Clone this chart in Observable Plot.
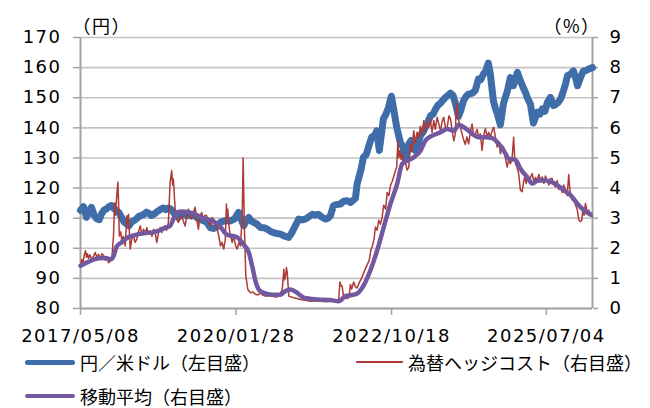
<!DOCTYPE html>
<html><head><meta charset="utf-8">
<script src="https://cdn.jsdelivr.net/npm/d3@7"></script>
<script src="https://cdn.jsdelivr.net/npm/@observablehq/plot@0.6"></script>
<style>
body{margin:0;background:#fff;}
#wrap{position:relative;width:650px;height:408px;overflow:hidden;background:#fff;}
.lg{position:absolute;font-family:"Noto Sans CJK JP",sans-serif;font-size:18px;line-height:24px;color:#000;white-space:nowrap;}
.sw{position:absolute;}
</style></head><body><div id="wrap"></div>
<script>
// ---- data ----
const xStart = "2017-05-08", xEnd = "2026-04-25";
const xTickLabels = ["2017-05-08", "2020-01-28", "2022-10-18", "2025-07-04"];
const yenTicks = [80, 90, 100, 110, 120, 130, 140, 150, 160, 170];
const pctTicks = [0, 1, 2, 3, 4, 5, 6, 7, 8, 9];
const seriesNames = ["円／米ドル（左目盛）", "為替ヘッジコスト（右目盛）", "移動平均（右目盛）"];

// USD/JPY (yen, left axis)
const fx = [["2017-05-08",112.6],["2017-05-27",113.8],["2017-06-15",110.3],["2017-07-02",112.2],["2017-07-17",113.6],["2017-08-03",111.0],["2017-08-19",109.8],["2017-09-05",109.5],["2017-09-19",111.4],["2017-10-05",112.6],["2017-10-21",113.1],["2017-11-06",113.8],["2017-11-22",114.2],["2017-12-08",113.2],["2017-12-24",112.5],["2018-01-09",111.8],["2018-01-25",110.3],["2018-02-10",108.8],["2018-02-26",108.1],["2018-03-14",107.5],["2018-03-30",108.7],["2018-04-15",109.2],["2018-05-01",109.8],["2018-05-17",110.6],["2018-06-02",110.9],["2018-06-18",111.3],["2018-07-04",112.0],["2018-07-20",111.6],["2018-08-05",110.9],["2018-08-25",111.5],["2018-09-18",112.5],["2018-10-04",113.0],["2018-10-20",113.4],["2018-11-05",112.8],["2018-11-21",113.4],["2018-12-07",113.0],["2018-12-23",112.0],["2019-01-08",110.8],["2019-01-24",110.3],["2019-02-09",110.9],["2019-02-25",111.4],["2019-03-18",110.8],["2019-04-11",110.9],["2019-04-28",111.2],["2019-05-19",110.3],["2019-06-10",109.6],["2019-07-03",109.2],["2019-07-25",108.6],["2019-08-17",106.8],["2019-09-05",106.6],["2019-09-24",107.0],["2019-10-08",107.8],["2019-10-20",108.6],["2019-11-20",109.2],["2019-12-23",109.1],["2020-01-18",109.8],["2020-02-13",111.9],["2020-03-01",109.5],["2020-03-17",107.5],["2020-04-01",109.0],["2020-04-18",110.2],["2020-05-05",109.0],["2020-05-20",108.6],["2020-06-10",108.0],["2020-07-02",106.9],["2020-07-25",106.8],["2020-08-16",106.3],["2020-09-05",105.6],["2020-09-23",105.2],["2020-10-15",104.9],["2020-11-07",104.7],["2020-12-05",104.0],["2020-12-29",103.6],["2021-01-14",104.8],["2021-01-29",106.3],["2021-02-15",108.0],["2021-03-03",109.7],["2021-03-25",109.4],["2021-04-15",109.7],["2021-05-08",110.5],["2021-05-30",111.3],["2021-06-18",111.0],["2021-07-07",111.3],["2021-07-28",110.4],["2021-08-21",109.7],["2021-09-08",110.0],["2021-09-22",110.8],["2021-10-11",114.1],["2021-10-30",114.5],["2021-11-25",114.7],["2021-12-16",115.6],["2022-01-08",115.8],["2022-01-28",115.2],["2022-02-15",116.0],["2022-03-01",116.6],["2022-03-12",121.4],["2022-04-05",126.0],["2022-04-21",130.2],["2022-05-08",131.0],["2022-05-23",133.5],["2022-06-13",136.9],["2022-07-02",137.5],["2022-07-15",139.0],["2022-08-01",132.5],["2022-08-27",143.0],["2022-09-12",144.5],["2022-09-28",146.7],["2022-10-17",150.5],["2022-10-30",146.7],["2022-11-20",140.2],["2022-12-14",135.0],["2022-12-30",133.6],["2023-01-15",129.5],["2023-02-04",134.5],["2023-02-20",135.8],["2023-03-08",134.5],["2023-03-20",132.5],["2023-04-05",134.5],["2023-04-21",137.5],["2023-05-07",138.5],["2023-05-22",140.1],["2023-06-08",142.0],["2023-06-24",144.0],["2023-07-10",144.5],["2023-07-26",146.2],["2023-08-11",147.5],["2023-08-27",148.2],["2023-09-12",149.2],["2023-09-28",150.1],["2023-10-14",150.8],["2023-10-30",151.5],["2023-11-15",150.8],["2023-12-01",148.0],["2023-12-20",143.8],["2024-01-05",146.0],["2024-01-21",149.0],["2024-02-08",150.5],["2024-02-22",151.2],["2024-03-18",151.5],["2024-04-06",152.5],["2024-04-25",156.2],["2024-05-10",156.0],["2024-05-27",157.8],["2024-06-12",159.0],["2024-06-28",161.5],["2024-07-11",157.8],["2024-07-30",149.0],["2024-08-12",146.5],["2024-08-25",144.6],["2024-09-13",141.0],["2024-10-02",147.9],["2024-10-28",152.3],["2024-11-16",156.7],["2024-12-05",154.0],["2024-12-31",158.4],["2025-01-19",155.6],["2025-02-05",153.5],["2025-02-20",151.8],["2025-03-08",149.5],["2025-03-24",147.9],["2025-04-12",141.6],["2025-04-25",143.5],["2025-05-08",145.2],["2025-05-25",144.6],["2025-06-08",146.3],["2025-06-25",145.5],["2025-07-11",148.5],["2025-07-30",150.1],["2025-08-18",147.4],["2025-09-02",147.8],["2025-09-19",148.5],["2025-10-05",149.8],["2025-10-21",152.3],["2025-11-03",154.5],["2025-11-16",157.3],["2025-12-05",157.8],["2025-12-24",158.9],["2026-01-08",156.5],["2026-01-19",154.0],["2026-02-07",156.7],["2026-02-26",158.9],["2026-03-15",159.0],["2026-03-30",159.5],["2026-04-25",160.0]];

// FX hedge cost (%, right axis)
const hedge = [["2017-05-08",1.40],["2017-05-16",1.63],["2017-05-24",1.52],["2017-06-02",1.80],["2017-06-09",1.92],["2017-06-15",1.70],["2017-06-22",1.82],["2017-06-28",1.66],["2017-07-08",1.78],["2017-07-17",1.62],["2017-07-30",1.74],["2017-08-10",1.86],["2017-08-20",1.70],["2017-08-31",1.80],["2017-09-12",1.66],["2017-09-22",1.82],["2017-10-02",1.77],["2017-10-14",1.60],["2017-10-24",1.72],["2017-11-03",1.52],["2017-11-14",1.58],["2017-11-24",1.63],["2017-12-05",2.41],["2017-12-12",3.50],["2017-12-16",3.10],["2018-01-02",4.19],["2018-01-06",3.60],["2018-01-11",2.41],["2018-01-20",2.55],["2018-01-27",2.24],["2018-02-06",2.40],["2018-02-18",2.08],["2018-02-28",3.08],["2018-03-06",2.80],["2018-03-11",3.13],["2018-03-22",1.97],["2018-04-01",2.30],["2018-04-12",2.41],["2018-04-22",2.20],["2018-05-03",2.30],["2018-05-14",2.55],["2018-05-25",2.74],["2018-06-05",2.45],["2018-06-15",2.63],["2018-06-26",2.50],["2018-07-06",2.68],["2018-07-17",2.47],["2018-07-28",2.58],["2018-08-08",2.40],["2018-08-18",2.63],["2018-08-29",2.50],["2018-09-08",2.19],["2018-09-20",2.55],["2018-09-30",2.69],["2018-10-10",2.52],["2018-10-20",2.70],["2018-10-31",2.74],["2018-11-10",2.60],["2018-11-21",2.86],["2018-12-02",4.19],["2018-12-12",4.58],["2018-12-18",4.10],["2018-12-23",4.30],["2019-01-03",3.30],["2019-01-14",2.95],["2019-01-24",2.86],["2019-02-04",3.00],["2019-02-14",3.08],["2019-02-25",2.90],["2019-03-08",2.74],["2019-03-18",3.05],["2019-03-29",3.30],["2019-04-08",3.02],["2019-04-19",2.97],["2019-04-30",3.20],["2019-05-11",3.36],["2019-05-20",3.00],["2019-06-01",2.63],["2019-06-10",3.05],["2019-06-22",3.19],["2019-07-03",2.95],["2019-07-13",3.10],["2019-07-24",3.08],["2019-08-05",2.85],["2019-08-17",2.74],["2019-08-27",3.02],["2019-09-05",2.97],["2019-09-16",2.80],["2019-09-26",2.69],["2019-10-08",2.45],["2019-10-20",2.08],["2019-10-30",2.20],["2019-11-10",1.97],["2019-11-20",2.30],["2019-11-27",3.47],["2019-12-01",3.00],["2019-12-06",3.30],["2019-12-12",2.80],["2019-12-19",2.52],["2020-01-03",2.19],["2020-01-13",2.41],["2020-01-24",2.10],["2020-02-04",1.97],["2020-02-15",2.20],["2020-02-25",2.08],["2020-03-07",3.08],["2020-03-13",5.00],["2020-03-17",3.80],["2020-03-22",2.52],["2020-03-30",1.08],["2020-04-12",0.63],["2020-04-29",0.52],["2020-05-15",0.55],["2020-05-31",0.47],["2020-06-15",0.45],["2020-07-02",0.52],["2020-07-18",0.44],["2020-08-03",0.41],["2020-08-25",0.43],["2020-09-15",0.41],["2020-10-06",0.38],["2020-10-27",0.41],["2020-11-18",0.63],["2020-11-24",1.00],["2020-11-28",1.30],["2020-12-03",0.95],["2020-12-09",1.08],["2020-12-15",1.36],["2020-12-20",1.20],["2020-12-30",0.41],["2021-01-31",0.36],["2021-02-20",0.33],["2021-03-14",0.30],["2021-04-15",0.27],["2021-05-17",0.24],["2021-06-18",0.26],["2021-07-20",0.24],["2021-08-21",0.22],["2021-09-22",0.24],["2021-10-24",0.26],["2021-11-14",0.30],["2021-11-22",0.88],["2021-11-30",0.75],["2021-12-06",0.74],["2021-12-16",0.36],["2022-01-07",0.33],["2022-01-20",0.38],["2022-01-28",0.80],["2022-02-05",0.65],["2022-02-18",0.88],["2022-03-01",0.72],["2022-03-12",0.68],["2022-03-25",0.85],["2022-04-13",1.05],["2022-04-28",1.25],["2022-05-15",1.45],["2022-05-28",1.60],["2022-06-08",1.95],["2022-06-16",2.05],["2022-06-28",2.30],["2022-07-07",2.71],["2022-07-18",2.60],["2022-07-28",2.93],["2022-08-08",2.80],["2022-08-19",3.04],["2022-08-29",3.43],["2022-09-10",3.30],["2022-09-20",3.85],["2022-10-01",3.75],["2022-10-12",4.10],["2022-10-22",4.22],["2022-11-02",4.40],["2022-11-12",4.58],["2022-11-20",4.70],["2022-11-27",5.57],["2022-12-03",5.00],["2022-12-10",5.24],["2022-12-18",4.95],["2022-12-25",5.13],["2023-01-05",4.80],["2023-01-15",4.86],["2023-01-25",4.60],["2023-02-05",4.69],["2023-02-16",5.46],["2023-02-25",5.20],["2023-03-09",5.90],["2023-03-20",5.50],["2023-03-30",5.85],["2023-04-10",5.68],["2023-04-20",6.05],["2023-05-01",5.75],["2023-05-12",6.24],["2023-05-22",5.90],["2023-06-01",6.15],["2023-06-12",6.02],["2023-06-22",6.30],["2023-07-04",5.85],["2023-07-15",6.24],["2023-07-25",5.95],["2023-08-05",6.35],["2023-08-16",6.13],["2023-08-27",5.90],["2023-09-06",6.20],["2023-09-17",6.35],["2023-09-28",6.00],["2023-10-09",6.02],["2023-10-20",6.40],["2023-10-30",6.29],["2023-11-10",5.90],["2023-11-20",5.57],["2023-11-30",5.80],["2023-12-07",6.84],["2023-12-14",6.50],["2023-12-22",6.24],["2024-01-02",6.00],["2024-01-12",5.80],["2024-01-22",5.60],["2024-02-02",5.45],["2024-02-12",5.70],["2024-02-23",5.47],["2024-03-05",5.85],["2024-03-16",6.13],["2024-03-26",5.75],["2024-04-06",5.80],["2024-04-17",5.95],["2024-04-27",5.70],["2024-05-08",5.80],["2024-05-19",5.25],["2024-05-29",5.75],["2024-06-09",5.97],["2024-06-20",5.70],["2024-06-30",5.85],["2024-07-11",5.69],["2024-07-22",5.90],["2024-08-01",6.02],["2024-08-12",5.70],["2024-08-23",5.36],["2024-09-03",5.55],["2024-09-13",5.14],["2024-09-24",5.40],["2024-10-04",5.36],["2024-10-15",5.00],["2024-10-26",4.70],["2024-11-06",4.95],["2024-11-16",4.81],["2024-11-27",5.00],["2024-12-07",5.69],["2024-12-12",5.10],["2024-12-18",4.81],["2024-12-28",4.70],["2025-01-08",4.48],["2025-01-19",3.93],["2025-01-30",3.88],["2025-02-08",4.20],["2025-02-16",4.37],["2025-02-25",4.15],["2025-03-06",4.40],["2025-03-13",4.26],["2025-03-24",4.35],["2025-04-04",4.48],["2025-04-15",4.20],["2025-04-25",4.35],["2025-05-06",4.26],["2025-05-17",4.45],["2025-05-27",4.25],["2025-06-07",4.37],["2025-06-18",4.15],["2025-06-28",4.40],["2025-07-09",4.26],["2025-07-20",4.10],["2025-07-30",4.32],["2025-08-10",4.32],["2025-08-21",4.10],["2025-08-31",4.04],["2025-09-11",4.25],["2025-09-21",3.95],["2025-10-02",4.04],["2025-10-13",3.85],["2025-10-23",4.10],["2025-11-03",3.93],["2025-11-14",3.75],["2025-11-24",4.45],["2025-12-02",3.90],["2025-12-16",3.60],["2025-12-26",3.70],["2026-01-06",3.44],["2026-01-17",3.30],["2026-01-27",2.95],["2026-02-07",2.89],["2026-02-15",2.92],["2026-02-22",3.27],["2026-03-02",3.10],["2026-03-11",3.49],["2026-03-22",3.20],["2026-04-01",3.27],["2026-04-12",3.10],["2026-04-23",3.05]];

// moving average of hedge cost (%, right axis)
const hedgeMA = [["2017-05-08",1.42],["2017-07-20",1.60],["2017-08-31",1.67],["2017-10-13",1.68],["2017-11-14",1.63],["2017-12-05",1.74],["2017-12-26",2.06],["2018-01-27",2.20],["2018-02-28",2.34],["2018-04-01",2.41],["2018-05-14",2.47],["2018-06-26",2.51],["2018-08-07",2.52],["2018-09-18",2.58],["2018-10-31",2.68],["2018-12-02",2.74],["2018-12-23",2.97],["2019-01-13",3.19],["2019-02-14",3.22],["2019-03-29",3.20],["2019-05-11",3.13],["2019-06-22",3.02],["2019-08-04",2.95],["2019-09-16",2.86],["2019-10-20",2.70],["2019-12-02",2.45],["2020-01-13",2.40],["2020-02-04",2.36],["2020-03-17",2.12],["2020-04-18",1.86],["2020-05-10",1.41],["2020-05-31",0.91],["2020-06-21",0.63],["2020-07-23",0.52],["2020-09-15",0.46],["2020-11-07",0.46],["2020-12-09",0.58],["2021-01-10",0.63],["2021-02-22",0.52],["2021-04-05",0.36],["2021-06-29",0.30],["2021-09-22",0.28],["2021-11-14",0.24],["2021-12-27",0.41],["2022-01-28",0.44],["2022-03-12",0.50],["2022-04-23",0.77],["2022-06-05",1.27],["2022-07-18",1.93],["2022-08-29",2.70],["2022-10-11",3.48],["2022-11-23",4.14],["2022-12-25",4.80],["2023-01-26",4.91],["2023-03-09",5.02],["2023-04-21",5.24],["2023-05-22",5.57],["2023-07-05",5.74],["2023-08-27",5.85],["2023-10-09",5.96],["2023-11-20",5.90],["2023-12-22",6.10],["2024-01-23",6.02],["2024-02-23",5.90],["2024-03-16",5.80],["2024-04-27",5.69],["2024-06-09",5.69],["2024-07-22",5.66],["2024-09-02",5.47],["2024-10-04",5.25],["2024-11-05",4.98],["2024-12-18",4.94],["2025-01-19",4.64],["2025-03-03",4.37],["2025-04-04",4.15],["2025-05-06",4.24],["2025-06-17",4.26],["2025-07-30",4.21],["2025-09-11",4.10],["2025-10-23",3.93],["2025-12-05",3.77],["2026-01-17",3.49],["2026-02-28",3.27],["2026-04-12",3.12]];

// ---- drawing ----
const parse = d3.utcParse("%Y-%m-%d");
const toRows = arr => arr.map(([d, v]) => ({date: parse(d), v}));
const yenMin = yenTicks[0], yenMax = yenTicks[yenTicks.length - 1];
const pctMax = pctTicks[pctTicks.length - 1];
const pctToYen = p => yenMin + p * (yenMax - yenMin) / pctMax;

const colors = {fx: "#3e6da9", hedge: "#ad3a36", ma: "#72589f", grid: "#c3c3c3", axis: "#a3a3a3"};
const x0 = parse(xStart), x1 = parse(xEnd);

const chart = Plot.plot({
  width: 650, height: 350,
  marginLeft: 80, marginRight: 58, marginTop: 37, marginBottom: 42,
  style: {fontFamily: "'DejaVu Sans', sans-serif", fontSize: "18px", color: "#000", background: "#fff", letterSpacing: "1.5px", overflow: "visible"},
  x: {type: "utc", domain: [x0, x1]},
  y: {domain: [yenMin, yenMax]},
  marks: [
    Plot.gridY(yenTicks, {stroke: colors.grid, strokeOpacity: 1, strokeWidth: 1.6}),
    Plot.ruleX([x0, x1], {stroke: colors.axis, strokeWidth: 2}),
    Plot.ruleY([yenMin], {stroke: colors.axis, strokeWidth: 2}),
    Plot.axisY(yenTicks, {anchor: "left", tickSize: 7, tickPadding: 12, stroke: colors.axis, strokeWidth: 1.5, fill: "#000", label: null}),
    Plot.axisY(yenTicks, {anchor: "right", tickSize: 5, tickPadding: 12, stroke: colors.axis, strokeWidth: 1.5, fill: "#000", label: null,
      tickFormat: d => String(pctTicks[yenTicks.indexOf(d)])}),
    Plot.axisX(xTickLabels.map(parse), {tickSize: 7, tickPadding: 14, stroke: colors.axis, strokeWidth: 1.5, fill: "#000", label: null,
      tickFormat: d3.utcFormat("%Y/%m/%d")}),
    Plot.line(toRows(fx), {x: "date", y: "v", stroke: colors.fx, strokeWidth: 7, strokeLinejoin: "round", strokeLinecap: "round"}),
    Plot.line(toRows(hedge), {x: "date", y: d => pctToYen(d.v), stroke: colors.hedge, strokeWidth: 1.5, strokeLinejoin: "round"}),
    Plot.line(toRows(hedgeMA), {x: "date", y: d => pctToYen(d.v), stroke: colors.ma, strokeWidth: 4.5, strokeLinejoin: "round", strokeLinecap: "round", curve: "monotone-x"}),
    Plot.text(["（円）"], {frameAnchor: "top-left", dx: -8, dy: -17, textAnchor: "start", fontFamily: "Noto Sans CJK JP", fontSize: 18, fill: "#000"}),
    Plot.text(["（%）"], {frameAnchor: "top-right", dx: 8, dy: -17, textAnchor: "end", fontFamily: "Noto Sans CJK JP", fontSize: 18, fill: "#000"})
  ]
});

const wrap = document.getElementById("wrap");
wrap.appendChild(chart);

// legend (HTML, below the SVG)
const legendItems = [
  {name: seriesNames[0], color: colors.fx, lw: 5, left: 25, len: 50, cy: 362},
  {name: seriesNames[1], color: colors.hedge, lw: 1.5, left: 356, len: 47, cy: 362},
  {name: seriesNames[2], color: colors.ma, lw: 4, left: 25, len: 50, cy: 396}
];
for (const it of legendItems) {
  const sw = document.createElement("div");
  sw.className = "sw";
  sw.style.left = it.left + "px";
  sw.style.width = it.len + "px";
  sw.style.height = it.lw + "px";
  sw.style.top = (it.cy - it.lw / 2) + "px";
  sw.style.background = it.color;
  sw.style.borderRadius = (it.lw / 2) + "px";
  wrap.appendChild(sw);
  const tx = document.createElement("div");
  tx.className = "lg";
  tx.style.left = (it.left + it.len + 5) + "px";
  tx.style.top = (it.cy - 12) + "px";
  tx.textContent = it.name;
  wrap.appendChild(tx);
}
</script></body></html>
